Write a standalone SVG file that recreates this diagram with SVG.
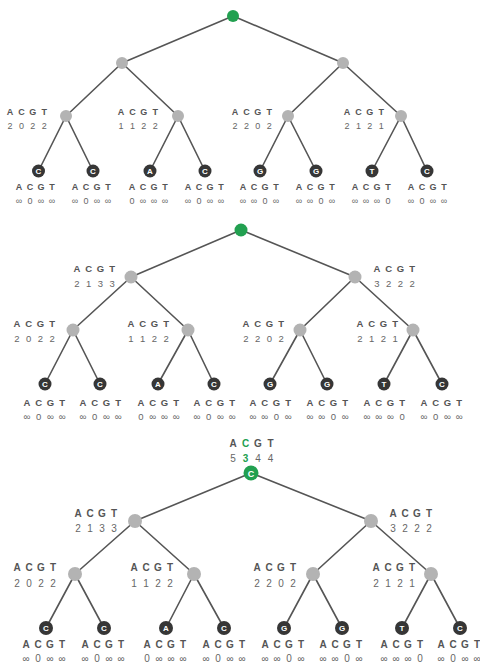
<svg xmlns="http://www.w3.org/2000/svg" width="480" height="664" viewBox="0 0 480 664">
<style>
.e{stroke:#555;stroke-width:1.6;fill:none}
.in{fill:#b3b3b3}
.lf{fill:#363636}
.rt{fill:#22a050}
text{font-family:"Liberation Sans",Arial,sans-serif;text-anchor:middle}
.k{font-weight:bold;fill:#555}
.v{fill:#666}
.c{font-weight:bold;fill:#fff;font-size:8px}
.g{fill:#22a050;font-weight:bold}
.t1{font-size:9px}
.t2{font-size:9.5px}
.t3{font-size:10px}
</style>
<rect width="480" height="664" fill="#fff"/>
<g id="connectors">
<path class="e" d="M233,16L122,63M233,16L343,63M122,63L66,116M122,63L178,116M343,63L288,116M343,63L401,116M66,116L38.5,171M66,116L93,171M178,116L150,171M178,116L205,171M288,116L260,171M288,116L316,171M401,116L372,171M401,116L427,171"/>
<path class="e" d="M241,230L131,277M241,230L355,277M131,277L73,330M131,277L188,330M355,277L300,330M355,277L413,330M73,330L45,384M73,330L100,384M188,330L158,384M188,330L214,384M300,330L270,384M300,330L327,384M413,330L384,384M413,330L442,384"/>
<path class="e" d="M251,473L135,521M251,473L371,521M135,521L75,574M135,521L194,574M371,521L313,574M371,521L431,574M75,574L46,628M75,574L104,628M194,574L166,628M194,574L224,628M313,574L284,628M313,574L342,628M431,574L402,628M431,574L460,628"/>
</g>
<!-- Tree 1 -->
<g id="t1-root"><circle class="rt" cx="233" cy="16" r="6"/></g>
<g id="t1-n1"><circle class="in" cx="122" cy="63" r="6"/></g>
<g id="t1-n2"><circle class="in" cx="343" cy="63" r="6"/></g>
<g id="t1-n3" class="t1"><circle class="in" cx="66" cy="116" r="6"/>
<text class="k" x="10 15.7 21.4 27.1 32.8 38.5 44.2" y="115">A C G T</text>
<text class="v" x="10 15.7 21.4 27.1 32.8 38.5 44.2" y="129">2 0 2 2</text></g>
<g id="t1-n4" class="t1"><circle class="in" cx="178" cy="116" r="6"/>
<text class="k" x="121 126.7 132.4 138.1 143.8 149.5 155.2" y="115">A C G T</text>
<text class="v" x="121 126.7 132.4 138.1 143.8 149.5 155.2" y="129">1 1 2 2</text></g>
<g id="t1-n5" class="t1"><circle class="in" cx="288" cy="116" r="6"/>
<text class="k" x="235 240.7 246.4 252.1 257.8 263.5 269.2" y="115">A C G T</text>
<text class="v" x="235 240.7 246.4 252.1 257.8 263.5 269.2" y="129">2 2 0 2</text></g>
<g id="t1-n6" class="t1"><circle class="in" cx="401" cy="116" r="6"/>
<text class="k" x="347 352.7 358.4 364.1 369.8 375.5 381.2" y="115">A C G T</text>
<text class="v" x="347 352.7 358.4 364.1 369.8 375.5 381.2" y="129">2 1 2 1</text></g>
<g id="t1-l1" class="t1"><circle class="lf" cx="38.5" cy="171" r="6.5"/><text class="c" x="38.5" y="174">C</text>
<text class="k" x="19 24.5 30 35.5 41 46.5 52" y="190">A C G T</text>
<text class="v" x="19 24.5 30 35.5 41 46.5 52" y="204">∞ 0 ∞ ∞</text></g>
<g id="t1-l2" class="t1"><circle class="lf" cx="93" cy="171" r="6.5"/><text class="c" x="93" y="174">C</text>
<text class="k" x="75 80.5 86 91.5 97 102.5 108" y="190">A C G T</text>
<text class="v" x="75 80.5 86 91.5 97 102.5 108" y="204">∞ 0 ∞ ∞</text></g>
<g id="t1-l3" class="t1"><circle class="lf" cx="150" cy="171" r="6.5"/><text class="c" x="150" y="174">A</text>
<text class="k" x="132 137.5 143 148.5 154 159.5 165" y="190">A C G T</text>
<text class="v" x="132 137.5 143 148.5 154 159.5 165" y="204">0 ∞ ∞ ∞</text></g>
<g id="t1-l4" class="t1"><circle class="lf" cx="205" cy="171" r="6.5"/><text class="c" x="205" y="174">C</text>
<text class="k" x="188 193.5 199 204.5 210 215.5 221" y="190">A C G T</text>
<text class="v" x="188 193.5 199 204.5 210 215.5 221" y="204">∞ 0 ∞ ∞</text></g>
<g id="t1-l5" class="t1"><circle class="lf" cx="260" cy="171" r="6.5"/><text class="c" x="260" y="174">G</text>
<text class="k" x="243 248.5 254 259.5 265 270.5 276" y="190">A C G T</text>
<text class="v" x="243 248.5 254 259.5 265 270.5 276" y="204">∞ ∞ 0 ∞</text></g>
<g id="t1-l6" class="t1"><circle class="lf" cx="316" cy="171" r="6.5"/><text class="c" x="316" y="174">G</text>
<text class="k" x="299 304.5 310 315.5 321 326.5 332" y="190">A C G T</text>
<text class="v" x="299 304.5 310 315.5 321 326.5 332" y="204">∞ ∞ 0 ∞</text></g>
<g id="t1-l7" class="t1"><circle class="lf" cx="372" cy="171" r="6.5"/><text class="c" x="372" y="174">T</text>
<text class="k" x="355 360.5 366 371.5 377 382.5 388" y="190">A C G T</text>
<text class="v" x="355 360.5 366 371.5 377 382.5 388" y="204">∞ ∞ ∞ 0</text></g>
<g id="t1-l8" class="t1"><circle class="lf" cx="427" cy="171" r="6.5"/><text class="c" x="427" y="174">C</text>
<text class="k" x="411 416.5 422 427.5 433 438.5 444" y="190">A C G T</text>
<text class="v" x="411 416.5 422 427.5 433 438.5 444" y="204">∞ 0 ∞ ∞</text></g>
<!-- Tree 2 -->
<g id="t2-root"><circle class="rt" cx="241" cy="230" r="6.5"/></g>
<g id="t2-n1" class="t2"><circle class="in" cx="131" cy="277" r="6.5"/>
<text class="k" x="77 82.85 88.7 94.55 100.4 106.25 112.1" y="272">A C G T</text>
<text class="v" x="77 82.85 88.7 94.55 100.4 106.25 112.1" y="287">2 1 3 3</text></g>
<g id="t2-n2" class="t2"><circle class="in" cx="355" cy="277" r="6.5"/>
<text class="k" x="377 382.85 388.7 394.55 400.4 406.25 412.1" y="272">A C G T</text>
<text class="v" x="377 382.85 388.7 394.55 400.4 406.25 412.1" y="287">3 2 2 2</text></g>
<g id="t2-n3" class="t2"><circle class="in" cx="73" cy="330" r="6.5"/>
<text class="k" x="17 22.85 28.7 34.55 40.4 46.25 52.1" y="327">A C G T</text>
<text class="v" x="17 22.85 28.7 34.55 40.4 46.25 52.1" y="342">2 0 2 2</text></g>
<g id="t2-n4" class="t2"><circle class="in" cx="188" cy="330" r="6.5"/>
<text class="k" x="131 136.85 142.7 148.55 154.4 160.25 166.1" y="327">A C G T</text>
<text class="v" x="131 136.85 142.7 148.55 154.4 160.25 166.1" y="342">1 1 2 2</text></g>
<g id="t2-n5" class="t2"><circle class="in" cx="300" cy="330" r="6.5"/>
<text class="k" x="246 251.85 257.7 263.55 269.4 275.25 281.1" y="327">A C G T</text>
<text class="v" x="246 251.85 257.7 263.55 269.4 275.25 281.1" y="342">2 2 0 2</text></g>
<g id="t2-n6" class="t2"><circle class="in" cx="413" cy="330" r="6.5"/>
<text class="k" x="360 365.85 371.7 377.55 383.4 389.25 395.1" y="327">A C G T</text>
<text class="v" x="360 365.85 371.7 377.55 383.4 389.25 395.1" y="342">2 1 2 1</text></g>
<g id="t2-l1" class="t2"><circle class="lf" cx="45" cy="384" r="6.5"/><text class="c" x="45" y="387">C</text>
<text class="k" x="27 32.85 38.7 44.55 50.4 56.25 62.1" y="406">A C G T</text>
<text class="v" x="27 32.85 38.7 44.55 50.4 56.25 62.1" y="420">∞ 0 ∞ ∞</text></g>
<g id="t2-l2" class="t2"><circle class="lf" cx="100" cy="384" r="6.5"/><text class="c" x="100" y="387">C</text>
<text class="k" x="83 88.85 94.7 100.55 106.4 112.25 118.1" y="406">A C G T</text>
<text class="v" x="83 88.85 94.7 100.55 106.4 112.25 118.1" y="420">∞ 0 ∞ ∞</text></g>
<g id="t2-l3" class="t2"><circle class="lf" cx="158" cy="384" r="6.5"/><text class="c" x="158" y="387">A</text>
<text class="k" x="141 146.85 152.7 158.55 164.4 170.25 176.1" y="406">A C G T</text>
<text class="v" x="141 146.85 152.7 158.55 164.4 170.25 176.1" y="420">0 ∞ ∞ ∞</text></g>
<g id="t2-l4" class="t2"><circle class="lf" cx="214" cy="384" r="6.5"/><text class="c" x="214" y="387">C</text>
<text class="k" x="197 202.85 208.7 214.55 220.4 226.25 232.1" y="406">A C G T</text>
<text class="v" x="197 202.85 208.7 214.55 220.4 226.25 232.1" y="420">∞ 0 ∞ ∞</text></g>
<g id="t2-l5" class="t2"><circle class="lf" cx="270" cy="384" r="6.5"/><text class="c" x="270" y="387">G</text>
<text class="k" x="253 258.85 264.7 270.55 276.4 282.25 288.1" y="406">A C G T</text>
<text class="v" x="253 258.85 264.7 270.55 276.4 282.25 288.1" y="420">∞ ∞ 0 ∞</text></g>
<g id="t2-l6" class="t2"><circle class="lf" cx="327" cy="384" r="6.5"/><text class="c" x="327" y="387">G</text>
<text class="k" x="310 315.85 321.7 327.55 333.4 339.25 345.1" y="406">A C G T</text>
<text class="v" x="310 315.85 321.7 327.55 333.4 339.25 345.1" y="420">∞ ∞ 0 ∞</text></g>
<g id="t2-l7" class="t2"><circle class="lf" cx="384" cy="384" r="6.5"/><text class="c" x="384" y="387">T</text>
<text class="k" x="367 372.85 378.7 384.55 390.4 396.25 402.1" y="406">A C G T</text>
<text class="v" x="367 372.85 378.7 384.55 390.4 396.25 402.1" y="420">∞ ∞ ∞ 0</text></g>
<g id="t2-l8" class="t2"><circle class="lf" cx="442" cy="384" r="6.5"/><text class="c" x="442" y="387">C</text>
<text class="k" x="424 429.85 435.7 441.55 447.4 453.25 459.1" y="406">A C G T</text>
<text class="v" x="424 429.85 435.7 441.55 447.4 453.25 459.1" y="420">∞ 0 ∞ ∞</text></g>
<!-- Tree 3 -->
<g id="t3-root" class="t3"><circle class="rt" cx="251" cy="473" r="7.5"/><text class="c" x="251" y="476.5" style="font-size:9px">C</text>
<text class="k" x="233 239.25 245.5 251.75 258 264.25 270.5" y="447">A <tspan class="g">C</tspan> G T</text>
<text class="v" x="233 239.25 245.5 251.75 258 264.25 270.5" y="462">5 <tspan class="g">3</tspan> 4 4</text></g>
<g id="t3-n1" class="t3"><circle class="in" cx="135" cy="521" r="7"/>
<text class="k" x="78 84 90 96 102 108 114" y="517">A C G T</text>
<text class="v" x="78 84 90 96 102 108 114" y="532">2 1 3 3</text></g>
<g id="t3-n2" class="t3"><circle class="in" cx="371" cy="521" r="7"/>
<text class="k" x="393 399 405 411 417 423 429" y="517">A C G T</text>
<text class="v" x="393 399 405 411 417 423 429" y="532">3 2 2 2</text></g>
<g id="t3-n3" class="t3"><circle class="in" cx="75" cy="574" r="7"/>
<text class="k" x="17 23 29 35 41 47 53" y="571">A C G T</text>
<text class="v" x="17 23 29 35 41 47 53" y="587">2 0 2 2</text></g>
<g id="t3-n4" class="t3"><circle class="in" cx="194" cy="574" r="7"/>
<text class="k" x="134 140 146 152 158 164 170" y="571">A C G T</text>
<text class="v" x="134 140 146 152 158 164 170" y="587">1 1 2 2</text></g>
<g id="t3-n5" class="t3"><circle class="in" cx="313" cy="574" r="7"/>
<text class="k" x="257 263 269 275 281 287 293" y="571">A C G T</text>
<text class="v" x="257 263 269 275 281 287 293" y="587">2 2 0 2</text></g>
<g id="t3-n6" class="t3"><circle class="in" cx="431" cy="574" r="7"/>
<text class="k" x="376 382 388 394 400 406 412" y="571">A C G T</text>
<text class="v" x="376 382 388 394 400 406 412" y="587">2 1 2 1</text></g>
<g id="t3-l1" class="t3"><circle class="lf" cx="46" cy="628" r="7"/><text class="c" x="46" y="631">C</text>
<text class="k" x="26 32 38 44 50 56 62" y="648">A C G T</text>
<text class="v" x="26 32 38 44 50 56 62" y="662">∞ 0 ∞ ∞</text></g>
<g id="t3-l2" class="t3"><circle class="lf" cx="104" cy="628" r="7"/><text class="c" x="104" y="631">C</text>
<text class="k" x="85 91 97 103 109 115 121" y="648">A C G T</text>
<text class="v" x="85 91 97 103 109 115 121" y="662">∞ 0 ∞ ∞</text></g>
<g id="t3-l3" class="t3"><circle class="lf" cx="166" cy="628" r="7"/><text class="c" x="166" y="631">A</text>
<text class="k" x="147 153 159 165 171 177 183" y="648">A C G T</text>
<text class="v" x="147 153 159 165 171 177 183" y="662">0 ∞ ∞ ∞</text></g>
<g id="t3-l4" class="t3"><circle class="lf" cx="224" cy="628" r="7"/><text class="c" x="224" y="631">C</text>
<text class="k" x="206 212 218 224 230 236 242" y="648">A C G T</text>
<text class="v" x="206 212 218 224 230 236 242" y="662">∞ 0 ∞ ∞</text></g>
<g id="t3-l5" class="t3"><circle class="lf" cx="284" cy="628" r="7"/><text class="c" x="284" y="631">G</text>
<text class="k" x="265 271 277 283 289 295 301" y="648">A C G T</text>
<text class="v" x="265 271 277 283 289 295 301" y="662">∞ ∞ 0 ∞</text></g>
<g id="t3-l6" class="t3"><circle class="lf" cx="342" cy="628" r="7"/><text class="c" x="342" y="631">G</text>
<text class="k" x="323 329 335 341 347 353 359" y="648">A C G T</text>
<text class="v" x="323 329 335 341 347 353 359" y="662">∞ ∞ 0 ∞</text></g>
<g id="t3-l7" class="t3"><circle class="lf" cx="402" cy="628" r="7"/><text class="c" x="402" y="631">T</text>
<text class="k" x="384 390 396 402 408 414 420" y="648">A C G T</text>
<text class="v" x="384 390 396 402 408 414 420" y="662">∞ ∞ ∞ 0</text></g>
<g id="t3-l8" class="t3"><circle class="lf" cx="460" cy="628" r="7"/><text class="c" x="460" y="631">C</text>
<text class="k" x="441 447 453 459 465 471 477" y="648">A C G T</text>
<text class="v" x="441 447 453 459 465 471 477" y="662">∞ 0 ∞ ∞</text></g>
</svg>
